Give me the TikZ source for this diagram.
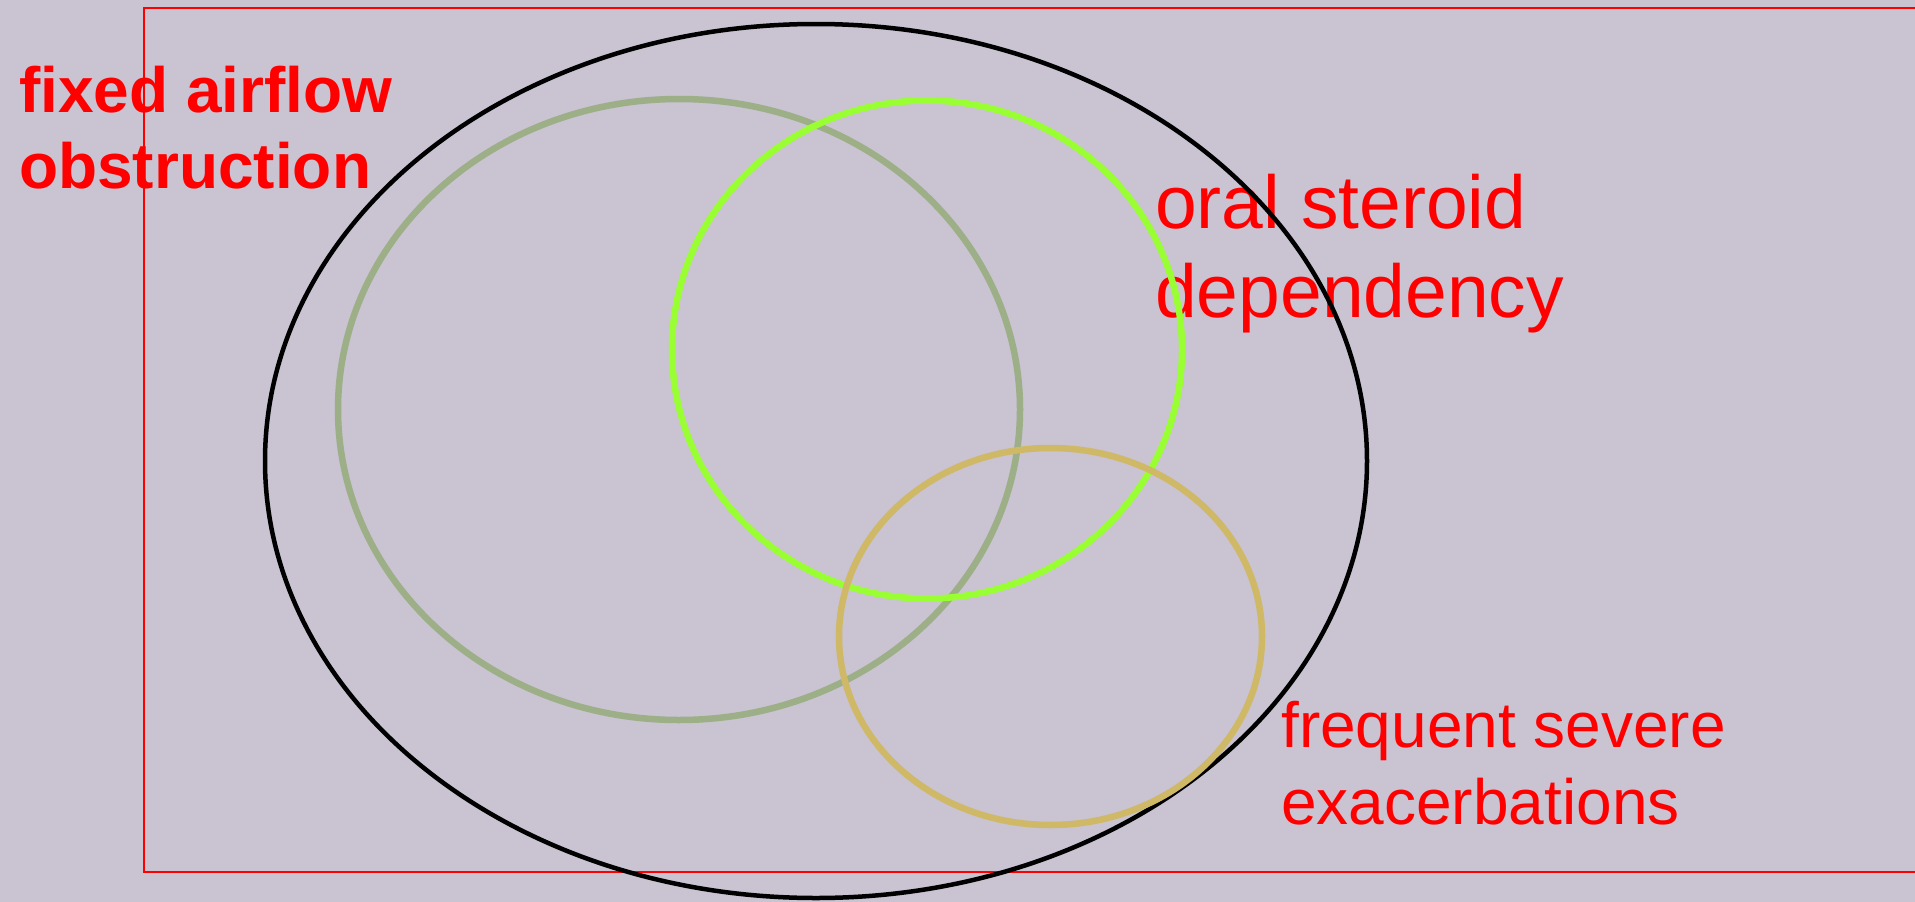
\documentclass[tikz,border=0pt]{standalone}
\usepackage{fontspec}
\setmainfont{Liberation Sans}
\usetikzlibrary{shapes.geometric}
\definecolor{bgc}{RGB}{201,195,210}
\definecolor{olivec}{RGB}{157,175,134}
\definecolor{greenc}{RGB}{153,255,51}
\definecolor{tanc}{RGB}{207,185,103}
\definecolor{redc}{RGB}{255,0,0}
\tikzset{
  ring/.style={ellipse, draw, inner sep=0pt, outer sep=0pt},
  boldlbl/.style={anchor=base west, inner sep=0pt, text=redc, font=\fontsize{64}{74}\selectfont\bfseries},
  lbla/.style={anchor=base west, inner sep=0pt, text=redc, font=\fontsize{75}{87}\selectfont},
  lblb/.style={anchor=base west, inner sep=0pt, text=redc, font=\fontsize{64}{74}\selectfont},
}
\begin{document}
\begin{tikzpicture}[x=1pt,y=-1pt]
\fill[bgc] (0,0) rectangle (1915,902);
\useasboundingbox (0,0) rectangle (1915,902);
\coordinate (r1) at (1915,7.5);
\coordinate (r2) at (143.5,7.5);
\coordinate (r3) at (143.5,871.7);
\coordinate (r4) at (1915,871.7);
\draw[redc, line width=2pt] (r1) -- (r2) -- (r3) -- (r4);
% labels
\node[boldlbl] (fa1) at (19,112) {fixed airflow};
\node[boldlbl] (fa2) at (19,188) {obstruction};
\node[lbla] (os1) at (1155,228) {oral steroid};
\node[lbla] (os2) at (1155,317) {dependency};
\node[lblb] (fs1) at (1281,747) {frequent severe};
\node[lblb] (fs2) at (1281,824) {exacerbations};
% ellipses
\node[ring, draw=black, line width=4.5pt, minimum width=1102pt, minimum height=874pt] (all) at (816,461) {};
\node[ring, draw=olivec, line width=6.5pt, minimum width=682pt, minimum height=621pt] (fixed) at (679,409.5) {};
\node[ring, draw=greenc, line width=6.5pt, minimum width=510pt, minimum height=498pt] (oral) at (927,349.5) {};
\node[ring, draw=tanc, line width=6.5pt, minimum width=423pt, minimum height=377pt] (freq) at (1050.5,636.5) {};
\end{tikzpicture}
\end{document}
